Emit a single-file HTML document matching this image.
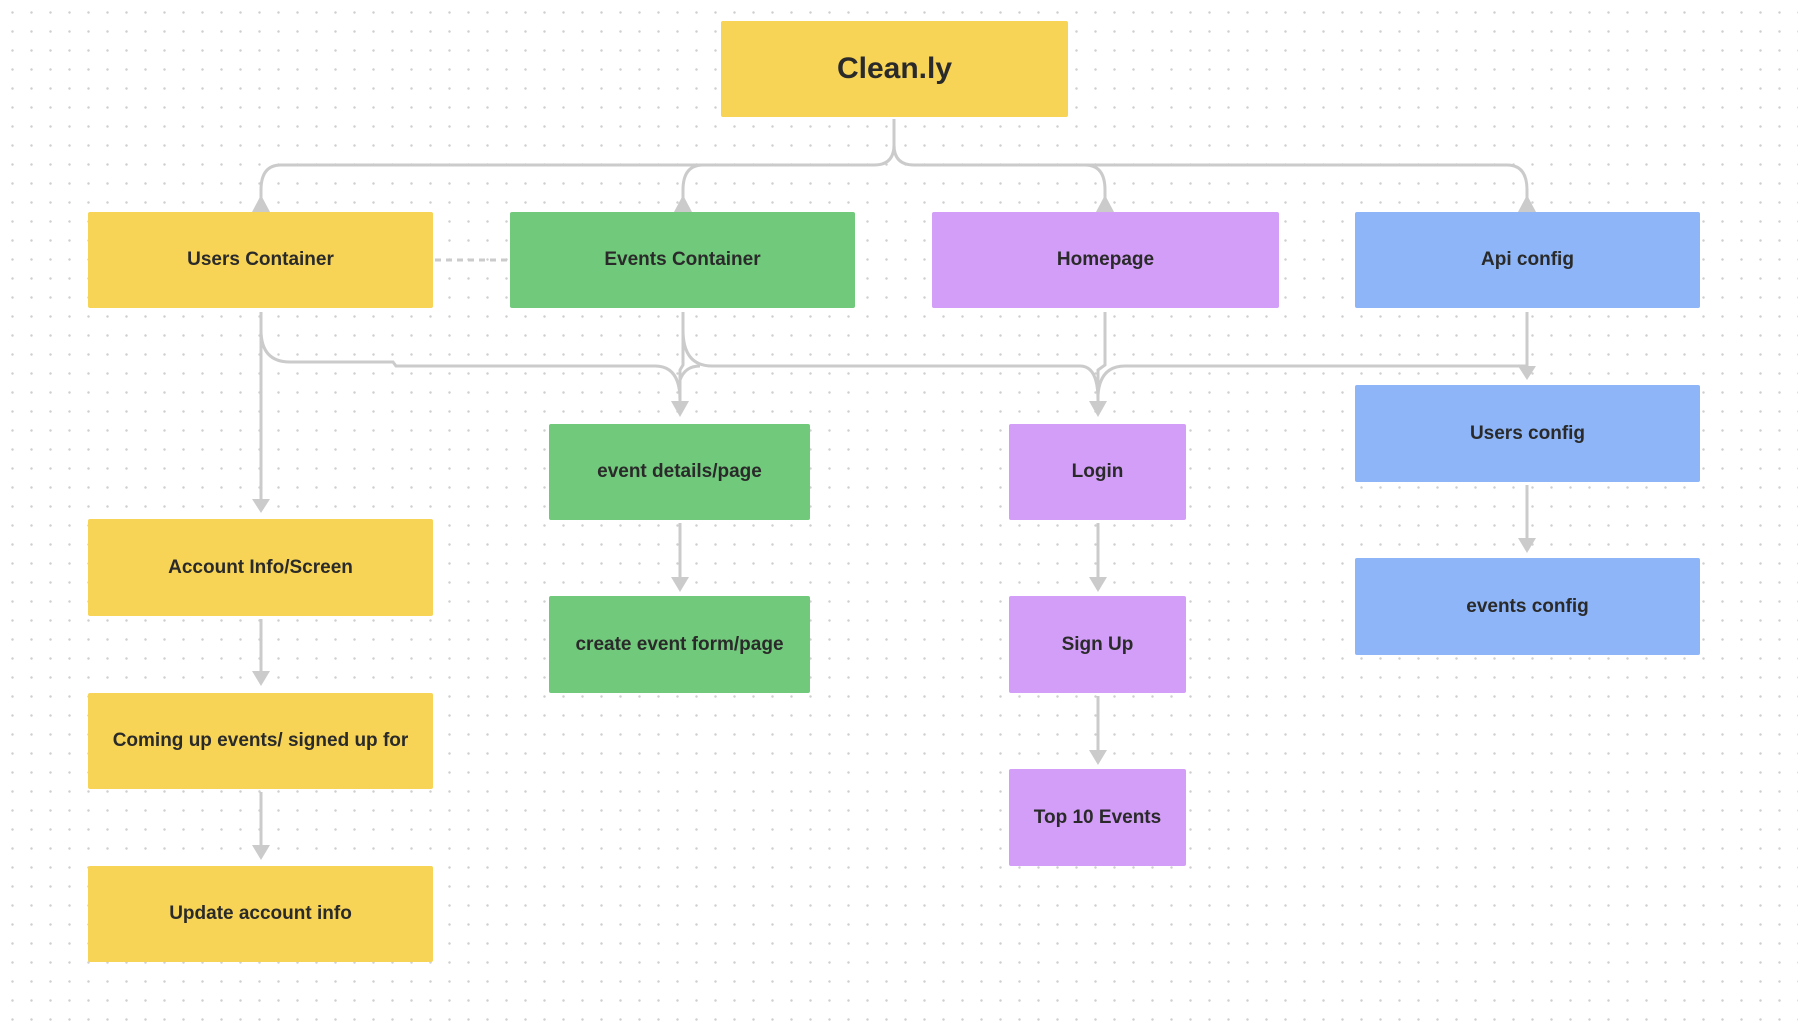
<!DOCTYPE html>
<html><head><style>
html,body{margin:0;padding:0}
body{width:1798px;height:1032px;position:relative;overflow:hidden;background:#fff;
background-image:radial-gradient(circle,#cfcfcf 1.1px,transparent 1.4px);background-size:19px 19px;background-position:3px 3px;
font-family:"Liberation Sans",sans-serif}
.b{position:absolute;display:flex;align-items:center;justify-content:center;font-weight:bold;font-size:19px;color:#2a2a2a;border-radius:2px}
.y{background:#f7d455}.g{background:#71c97b}.p{background:#d39ef7}.u{background:#8db5f7}
svg{position:absolute;left:0;top:0}
</style></head><body>
<svg width="1798" height="1032" fill="none" stroke="#cbcbcb" stroke-width="3">
<!-- top tree -->
<path d="M894 119 V145 Q894 165 874 165 H281 Q261 165 261 190 V200"/>
<path d="M874 165 H703 Q683 165 683 190 V200"/>
<path d="M894 145 Q894 165 914 165 H1085 Q1105 165 1105 190 V200"/>
<path d="M1085 165 H1507 Q1527 165 1527 190 V200"/>
<g fill="#cbcbcb" stroke="none">
<polygon points="261,195 252,212 270,212"/>
<polygon points="683,195 674,212 692,212"/>
<polygon points="1105,195 1096,212 1114,212"/>
<polygon points="1527,195 1518,212 1536,212"/>
</g>
<path d="M435 260 H508" stroke-dasharray="6 5"/>
<!-- lower -->
<path d="M261 312 V506"/>
<path d="M261 330 Q261 362 290 362 H393 L396 366 H655 Q680 366 680 400"/>
<path d="M683 312 V365 L680 370 V402"/>
<path d="M683 330 Q683 366 712 366 H1080 Q1098 366 1098 400"/>
<path d="M1105 312 V365 L1098 370 V402"/>
<path d="M680 380 Q685 366 700 366"/>
<path d="M1527 312 V366 Q1527 366 1498 366 H1125 Q1100 366 1098 395"/>
<path d="M1527 312 V368"/>
<path d="M680 523 V580"/><path d="M1098 523 V580"/>
<path d="M261 619 V675"/><path d="M261 792 V850"/>
<path d="M1098 696 V755"/><path d="M1527 485 V545"/>
<g fill="#cbcbcb" stroke="none">
<polygon points="261,513 252,499 270,499"/>
<polygon points="680,417 671,401 689,401"/>
<polygon points="1098,417 1089,401 1107,401"/>
<polygon points="1527,380 1518,366 1536,366"/>
<polygon points="680,592 671,577 689,577"/>
<polygon points="1098,592 1089,577 1107,577"/>
<polygon points="1098,765 1089,750 1107,750"/>
<polygon points="1527,553 1518,538 1536,538"/>
<polygon points="261,686 252,671 270,671"/>
<polygon points="261,860 252,845 270,845"/>
</g>
</svg>
<div class="b y" style="left:721px;top:21px;width:347px;height:96px;font-size:30px">Clean.ly</div>
<div class="b y" style="left:88px;top:212px;width:345px;height:96px">Users Container</div>
<div class="b g" style="left:510px;top:212px;width:345px;height:96px">Events Container</div>
<div class="b p" style="left:932px;top:212px;width:347px;height:96px">Homepage</div>
<div class="b u" style="left:1355px;top:212px;width:345px;height:96px">Api config</div>
<div class="b g" style="left:549px;top:424px;width:261px;height:96px">event details/page</div>
<div class="b g" style="left:549px;top:596px;width:261px;height:97px">create event form/page</div>
<div class="b p" style="left:1009px;top:424px;width:177px;height:96px">Login</div>
<div class="b p" style="left:1009px;top:596px;width:177px;height:97px">Sign Up</div>
<div class="b p" style="left:1009px;top:769px;width:177px;height:97px">Top 10 Events</div>
<div class="b u" style="left:1355px;top:385px;width:345px;height:97px">Users config</div>
<div class="b u" style="left:1355px;top:558px;width:345px;height:97px">events config</div>
<div class="b y" style="left:88px;top:519px;width:345px;height:97px">Account Info/Screen</div>
<div class="b y" style="left:88px;top:693px;width:345px;height:96px">Coming up events/ signed up for</div>
<div class="b y" style="left:88px;top:866px;width:345px;height:96px">Update account info</div>
</body></html>
